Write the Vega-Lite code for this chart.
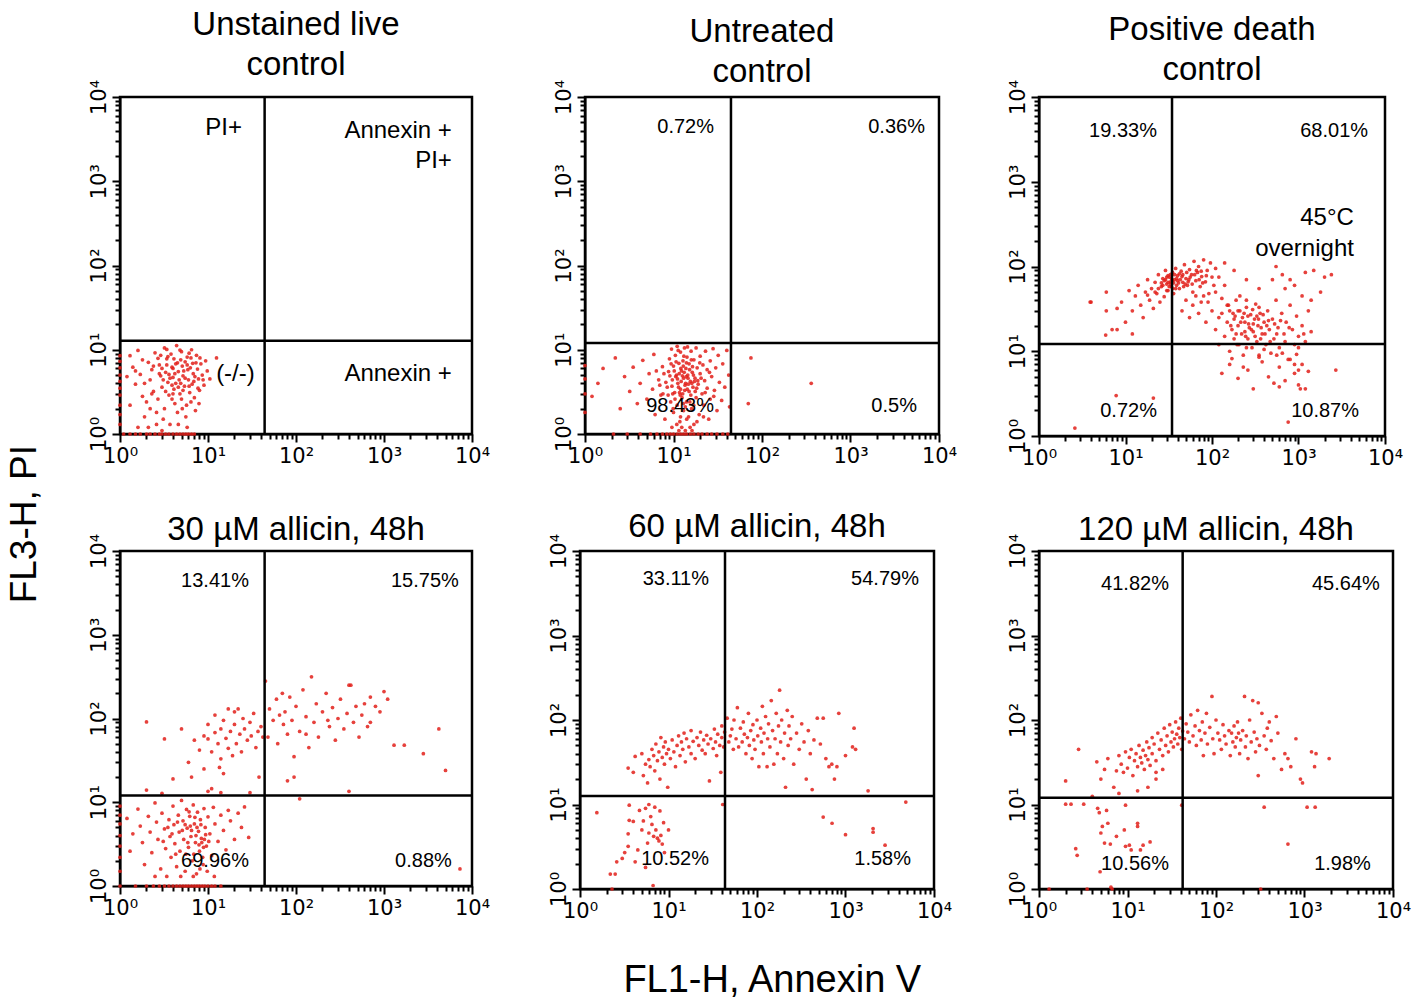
{
"$schema": "https://vega.github.io/schema/vega-lite/v6.json",
"padding": {"left": 5, "top": 8, "right": 5, "bottom": 0},
"title": {"text": "FL3-H, PI", "orient": "left", "fontSize": 37, "offset": 43, "anchor": "middle", "dx": -20},
"datasets": {
"p1": [
{"x":1.1,"y":1},{"x":1.3,"y":1},{"x":1.5,"y":1},{"x":1.7,"y":1},{"x":2.0,"y":1},{"x":2.2,"y":1},{"x":2.5,"y":1},{"x":2.8,"y":1},{"x":3.0,"y":1},{"x":3.3,"y":1},{"x":3.6,"y":1},{"x":4.0,"y":1},{"x":4.4,"y":1},{"x":4.8,"y":1},{"x":5.2,"y":1},{"x":5.6,"y":1},{"x":6.0,"y":1},{"x":6.5,"y":1},{"x":7.0,"y":1},
{"x":1,"y":1.3},{"x":1,"y":1.7},{"x":1,"y":2.2},{"x":1,"y":2.9},{"x":1,"y":3.5},{"x":1,"y":4.2},{"x":1,"y":5.0},{"x":1,"y":6.1},{"x":1,"y":7.3},{"x":1,"y":8.5},
{"x":1.3,"y":8.5},{"x":1.6,"y":9.8},{"x":1.4,"y":6.2},{"x":1.7,"y":5.1},{"x":1.5,"y":3.9},{"x":1.8,"y":2.8},{"x":1.3,"y":2.2},{"x":1.9,"y":1.6},{"x":2.1,"y":7.1},{"x":2.3,"y":5.8},{"x":2.2,"y":4.4},{"x":2.4,"y":3.2},{"x":2.0,"y":2.4},{"x":2.6,"y":1.8},{"x":2.5,"y":9.2},{"x":2.8,"y":6.6},{"x":2.9,"y":4.9},{"x":3.0,"y":3.6},{"x":2.7,"y":2.6},{"x":3.1,"y":1.5},{"x":3.2,"y":10.5},{"x":3.4,"y":7.8},{"x":3.3,"y":5.4},{"x":3.5,"y":4.1},{"x":3.6,"y":2.9},{"x":3.2,"y":2.0},{"x":3.8,"y":8.9},{"x":3.9,"y":6.2},{"x":4.0,"y":4.7},{"x":4.1,"y":3.4},{"x":4.2,"y":2.3},{"x":3.7,"y":1.3},{"x":4.4,"y":11.2},{"x":4.5,"y":7.0},{"x":4.6,"y":5.5},{"x":4.3,"y":4.0},{"x":4.8,"y":3.0},{"x":4.5,"y":1.8},{"x":5.0,"y":9.5},{"x":5.1,"y":6.4},{"x":5.2,"y":4.9},{"x":5.4,"y":3.7},{"x":5.0,"y":2.6},{"x":5.6,"y":1.6},{"x":5.8,"y":8.2},{"x":5.9,"y":5.8},{"x":6.0,"y":4.4},{"x":6.2,"y":3.1},{"x":5.7,"y":2.2},{"x":6.5,"y":10.0},{"x":6.7,"y":6.9},{"x":6.8,"y":5.2},{"x":6.6,"y":3.9},{"x":7.0,"y":2.7},{"x":7.2,"y":1.9},{"x":7.4,"y":8.6},{"x":7.6,"y":5.9},{"x":7.8,"y":4.5},{"x":8.0,"y":3.3},{"x":8.3,"y":6.8},{"x":8.6,"y":5.0},{"x":9.0,"y":3.8},{"x":9.4,"y":7.4},{"x":9.8,"y":5.6},{"x":12.5,"y":8.0},{"x":10.5,"y":4.5},{"x":2.7,"y":7.9},{"x":3.0,"y":6.0},{"x":3.6,"y":5.1},{"x":4.0,"y":6.0},{"x":4.2,"y":5.2},{"x":4.7,"y":4.4},{"x":5.3,"y":5.6},{"x":3.9,"y":3.8},{"x":4.9,"y":4.0},{"x":5.5,"y":7.2},{"x":3.3,"y":3.2},{"x":2.3,"y":3.0},{"x":6.3,"y":6.1},{"x":7.1,"y":4.8},{"x":4.1,"y":7.8},{"x":2.9,"y":8.6},{"x":1.9,"y":4.0},{"x":1.2,"y":4.8},{"x":2.1,"y":1.2},{"x":2.6,"y":1.3},{"x":4.6,"y":1.3},{"x":5.8,"y":1.2},{"x":6.4,"y":2.4},{"x":7.7,"y":3.5},{"x":8.8,"y":4.4},{"x":3.4,"y":10.1},{"x":4.8,"y":9.9},{"x":6.1,"y":9.1},{"x":1.6,"y":1.2},{"x":3.0,"y":1.1},
{"x":2.8,"y":5.2},{"x":3.1,"y":4.4},{"x":3.4,"y":6.6},{"x":3.7,"y":4.6},{"x":4.0,"y":3.0},{"x":4.3,"y":6.8},{"x":4.6,"y":3.6},{"x":4.9,"y":7.6},{"x":5.2,"y":3.3},{"x":5.5,"y":4.6},{"x":5.8,"y":6.6},{"x":6.1,"y":3.7},{"x":6.4,"y":8.0},{"x":6.9,"y":4.2},{"x":7.3,"y":7.0},{"x":3.5,"y":8.3},{"x":2.4,"y":6.4},{"x":2.2,"y":2.0},{"x":3.9,"y":2.6},{"x":5.1,"y":2.0},{"x":1.8,"y":7.6},{"x":1.5,"y":5.6},{"x":8.1,"y":8.0},{"x":7.9,"y":2.3}
],
"p2": [
{"x":2.1,"y":1},{"x":3.0,"y":1},{"x":4.2,"y":1},{"x":5.5,"y":1},{"x":6.5,"y":1},{"x":7.5,"y":1},{"x":8.4,"y":1},{"x":9.2,"y":1},{"x":10,"y":1},{"x":11,"y":1},{"x":12,"y":1},{"x":13,"y":1},{"x":14,"y":1},{"x":15.5,"y":1},{"x":17,"y":1},{"x":19,"y":1},{"x":21,"y":1},{"x":24,"y":1},{"x":27,"y":1},{"x":31,"y":1},{"x":36,"y":1},{"x":41,"y":1},
{"x":1,"y":1.8},{"x":1,"y":3.0},{"x":1,"y":4.5},{"x":1,"y":6.5},
{"x":1.2,"y":2.8},{"x":1.6,"y":6.0},{"x":2.2,"y":8.0},{"x":1.4,"y":4.0},{"x":2.5,"y":2.0},{"x":2.8,"y":4.8},{"x":3.2,"y":3.2},{"x":3.5,"y":6.2},{"x":3.9,"y":2.3},{"x":4.2,"y":4.0},{"x":4.5,"y":7.5},{"x":5.0,"y":2.6},{"x":5.3,"y":5.2},{"x":5.8,"y":3.4},{"x":6.2,"y":1.7},{"x":6.0,"y":8.8},{"x":6.8,"y":4.4},{"x":7.2,"y":2.9},{"x":7.5,"y":6.3},{"x":8.0,"y":1.5},
{"x":8.5,"y":3.6},{"x":8.8,"y":5.5},{"x":9.0,"y":7.8},{"x":9.3,"y":2.4},{"x":9.5,"y":10.2},{"x":9.7,"y":4.4},{"x":10,"y":1.8},{"x":10,"y":6.4},{"x":10.3,"y":3.1},{"x":10.5,"y":8.6},{"x":10.8,"y":5.0},{"x":11,"y":2.2},{"x":11,"y":11.0},{"x":11.2,"y":4.0},{"x":11.5,"y":6.9},{"x":11.8,"y":1.4},{"x":12,"y":3.4},{"x":12,"y":9.4},{"x":12.3,"y":5.6},{"x":12.5,"y":2.7},{"x":12.8,"y":7.4},{"x":13,"y":4.6},{"x":13,"y":1.9},{"x":13.3,"y":10.5},{"x":13.5,"y":3.8},{"x":13.8,"y":6.0},{"x":14,"y":2.4},{"x":14.2,"y":8.2},{"x":14.5,"y":5.0},{"x":14.8,"y":1.6},{"x":15,"y":3.2},{"x":15,"y":6.8},{"x":15.5,"y":4.2},{"x":15.8,"y":9.6},{"x":16,"y":2.0},{"x":16.3,"y":5.4},{"x":16.6,"y":3.6},{"x":17,"y":7.6},{"x":17,"y":1.3},{"x":17.5,"y":4.6},{"x":18,"y":2.7},{"x":18,"y":10.5},{"x":18.5,"y":6.1},{"x":19,"y":3.9},{"x":19.5,"y":1.7},{"x":20,"y":5.2},{"x":20,"y":8.4},{"x":21,"y":3.0},{"x":21.5,"y":6.6},{"x":22,"y":2.2},{"x":22.5,"y":4.3},{"x":23,"y":9.6},{"x":24,"y":3.5},{"x":24,"y":5.8},{"x":25,"y":1.5},{"x":26,"y":7.4},{"x":26,"y":2.6},{"x":27,"y":4.8},{"x":28,"y":10.3},{"x":29,"y":3.3},{"x":30,"y":6.1},{"x":31,"y":1.9},{"x":32,"y":8.6},{"x":33,"y":4.1},{"x":35,"y":2.5},{"x":36,"y":6.8},{"x":38,"y":3.6},{"x":40,"y":9.8},{"x":42,"y":5.0},{"x":43,"y":2.1},
{"x":9.8,"y":3.0},{"x":10.6,"y":4.8},{"x":11.4,"y":3.6},{"x":12.2,"y":4.2},{"x":12.7,"y":3.0},{"x":13.2,"y":5.4},{"x":13.7,"y":4.0},{"x":14.3,"y":3.4},{"x":14.6,"y":4.6},{"x":15.2,"y":5.8},{"x":15.7,"y":2.9},{"x":16.1,"y":4.0},{"x":11.6,"y":5.2},{"x":10.2,"y":5.6},{"x":12.9,"y":6.4},{"x":14.0,"y":7.0},{"x":16.8,"y":5.0},{"x":17.6,"y":3.2},{"x":9.1,"y":4.9},{"x":8.2,"y":4.1},{"x":11.9,"y":2.9},{"x":13.6,"y":2.1},{"x":12.4,"y":1.2},{"x":10.9,"y":1.3},{"x":15.4,"y":1.2},{"x":18.8,"y":4.3},{"x":19.8,"y":7.0},{"x":9.4,"y":6.8},{"x":7.8,"y":5.2},{"x":7.0,"y":3.8},
{"x":9.6,"y":3.7},{"x":10.4,"y":2.6},{"x":11.1,"y":4.5},{"x":11.7,"y":3.1},{"x":12.6,"y":4.9},{"x":13.4,"y":3.3},{"x":13.9,"y":4.8},{"x":14.7,"y":3.9},{"x":15.3,"y":2.4},{"x":16.4,"y":6.3},{"x":17.2,"y":4.2},{"x":18.3,"y":3.5},{"x":12.1,"y":6.0},{"x":10.7,"y":7.2},{"x":13.1,"y":8.4},{"x":15.9,"y":7.6},{"x":11.3,"y":9.8},{"x":14.4,"y":10.8},{"x":9.9,"y":2.0},{"x":12.9,"y":2.3},{"x":16.9,"y":2.2},{"x":20.5,"y":4.6},{"x":22.8,"y":3.1},{"x":25.5,"y":5.4},{"x":28.5,"y":2.8},{"x":8.7,"y":2.9},{"x":7.6,"y":3.0},{"x":6.4,"y":5.6},{"x":12.0,"y":1.6},{"x":14.1,"y":1.5},{"x":18.4,"y":1.4},{"x":21.8,"y":1.6},{"x":11.5,"y":1.1},{"x":13.6,"y":1.1},{"x":16.2,"y":1.1},{"x":9.6,"y":1.2},
{"x":75,"y":8.0},{"x":70,"y":2.3},{"x":360,"y":4.0}
],
"p3": [
{"x":9,"y":38},{"x":10,"y":22},{"x":11,"y":52},{"x":12,"y":30},{"x":13,"y":45},{"x":14,"y":60},{"x":15,"y":35},{"x":16,"y":25},{"x":17,"y":50},{"x":18,"y":70},{"x":19,"y":40},{"x":20,"y":55},{"x":21,"y":32},{"x":22,"y":65},{"x":23,"y":48},{"x":24,"y":80},{"x":25,"y":38},{"x":26,"y":58},{"x":27,"y":72},{"x":28,"y":44},{"x":29,"y":90},{"x":30,"y":62},{"x":31,"y":52},{"x":32,"y":75},{"x":33,"y":66},{"x":34,"y":58},{"x":35,"y":85},{"x":36,"y":48},{"x":37,"y":70},{"x":38,"y":95},{"x":39,"y":60},{"x":40,"y":78},{"x":42,"y":55},{"x":44,"y":88},{"x":46,"y":65},{"x":48,"y":105},{"x":50,"y":72},{"x":52,"y":60},{"x":55,"y":92},{"x":58,"y":80},{"x":60,"y":50},{"x":62,"y":115},{"x":65,"y":68},{"x":68,"y":85},{"x":70,"y":100},{"x":73,"y":58},{"x":76,"y":76},{"x":80,"y":120},{"x":84,"y":66},{"x":88,"y":90},{"x":92,"y":48},{"x":96,"y":110},{"x":100,"y":75},{"x":105,"y":60},{"x":110,"y":95},
{"x":28,"y":68},{"x":30,"y":75},{"x":32,"y":58},{"x":34,"y":72},{"x":36,"y":64},{"x":38,"y":55},{"x":40,"y":68},{"x":33,"y":80},{"x":31,"y":65},{"x":45,"y":76},{"x":42,"y":82},{"x":47,"y":58},{"x":54,"y":70},{"x":26,"y":64},{"x":24,"y":55},
{"x":27,"y":60},{"x":29,"y":70},{"x":31,"y":78},{"x":33,"y":62},{"x":35,"y":68},{"x":37,"y":80},{"x":39,"y":72},{"x":41,"y":64},{"x":43,"y":70},{"x":46,"y":80},{"x":49,"y":62},{"x":51,"y":85},{"x":53,"y":66},{"x":56,"y":75},{"x":59,"y":62},{"x":63,"y":80},{"x":66,"y":90},{"x":71,"y":70},{"x":75,"y":88},{"x":78,"y":64},{"x":86,"y":78},{"x":35,"y":55},{"x":30,"y":52},{"x":22,"y":50},{"x":18,"y":46},
{"x":12,"y":16},{"x":8,"y":32},{"x":7,"y":18},{"x":6,"y":30},{"x":4,"y":38},
{"x":45,"y":30},{"x":50,"y":40},{"x":60,"y":35},{"x":70,"y":28},{"x":80,"y":45},{"x":90,"y":38},{"x":100,"y":30},{"x":110,"y":50},{"x":120,"y":25},{"x":130,"y":42},{"x":140,"y":60},{"x":150,"y":35},{"x":55,"y":25},{"x":65,"y":45},{"x":85,"y":22},{"x":75,"y":38},
{"x":110,"y":18},{"x":120,"y":12},{"x":130,"y":28},{"x":140,"y":15},{"x":150,"y":22},{"x":155,"y":35},{"x":160,"y":10},{"x":170,"y":18},{"x":175,"y":28},{"x":180,"y":14},{"x":190,"y":40},{"x":200,"y":20},{"x":205,"y":12},{"x":210,"y":30},{"x":220,"y":16},{"x":225,"y":25},{"x":230,"y":9},{"x":240,"y":22},{"x":250,"y":33},{"x":260,"y":14},{"x":270,"y":19},{"x":280,"y":27},{"x":290,"y":11},{"x":300,"y":17},{"x":310,"y":24},{"x":320,"y":36},{"x":330,"y":13},{"x":340,"y":20},{"x":350,"y":8.5},{"x":360,"y":28},{"x":380,"y":16},{"x":400,"y":22},{"x":420,"y":12},{"x":440,"y":30},{"x":460,"y":18},{"x":480,"y":9.5},{"x":500,"y":24},{"x":520,"y":14},{"x":550,"y":40},{"x":580,"y":19},{"x":600,"y":11},{"x":640,"y":28},{"x":680,"y":16},{"x":720,"y":22},{"x":760,"y":8},{"x":800,"y":35},{"x":850,"y":18},{"x":900,"y":12},{"x":950,"y":26},{"x":1000,"y":15},{"x":1100,"y":20},{"x":1200,"y":13},{"x":1300,"y":30},{"x":1400,"y":17},
{"x":180,"y":24},{"x":200,"y":30},{"x":240,"y":17},{"x":260,"y":26},{"x":300,"y":21},{"x":330,"y":26},{"x":370,"y":19},{"x":410,"y":16},{"x":450,"y":23},{"x":250,"y":11},{"x":190,"y":16},{"x":160,"y":30},
{"x":165,"y":20},{"x":185,"y":26},{"x":195,"y":12},{"x":215,"y":22},{"x":235,"y":28},{"x":245,"y":15},{"x":265,"y":21},{"x":285,"y":18},{"x":295,"y":31},{"x":315,"y":15},{"x":345,"y":24},{"x":365,"y":14},{"x":390,"y":27},{"x":430,"y":20},{"x":470,"y":13},{"x":530,"y":21},{"x":560,"y":16},{"x":620,"y":23},{"x":700,"y":13},{"x":780,"y":19},{"x":1000,"y":11},{"x":1150,"y":16},{"x":250,"y":40},{"x":210,"y":45},{"x":350,"y":33},
{"x":400,"y":10.5},{"x":560,"y":9},{"x":1000,"y":6},{"x":1050,"y":3.6},{"x":900,"y":7},{"x":600,"y":3.8},{"x":230,"y":6.5},
{"x":130,"y":5.5},{"x":160,"y":7},{"x":200,"y":4.8},{"x":260,"y":6},{"x":300,"y":3.6},{"x":380,"y":7.5},{"x":450,"y":5},{"x":520,"y":4.2},{"x":600,"y":6.5},{"x":700,"y":4.5},{"x":800,"y":8},{"x":900,"y":5.5},{"x":1000,"y":4},{"x":1100,"y":7},{"x":1200,"y":3.6},{"x":1300,"y":5.8},{"x":170,"y":8.2},{"x":350,"y":9},{"x":650,"y":9.5},{"x":950,"y":9.2},
{"x":550,"y":100},{"x":650,"y":80},{"x":800,"y":70},{"x":900,"y":60},{"x":1200,"y":85},{"x":1500,"y":90},{"x":2000,"y":75},{"x":2400,"y":80},{"x":1800,"y":50},{"x":1100,"y":45},{"x":700,"y":55},{"x":1400,"y":40},{"x":500,"y":70},{"x":350,"y":55},{"x":250,"y":70},{"x":180,"y":90},{"x":140,"y":110},{"x":120,"y":75},
{"x":2700,"y":6},{"x":760,"y":1.46},{"x":2.6,"y":1.24},{"x":7.8,"y":3.0},{"x":21,"y":2.8},{"x":3.9,"y":38},{"x":5.9,"y":15.5},{"x":6,"y":50},{"x":8,"y":18}
],
"p4": [
{"x":1.0,"y":1},{"x":1.5,"y":1},{"x":2.0,"y":1},{"x":2.4,"y":1},{"x":2.8,"y":1},{"x":3.2,"y":1},{"x":3.6,"y":1},{"x":4.0,"y":1},{"x":4.4,"y":1},{"x":4.8,"y":1},{"x":5.2,"y":1},{"x":5.6,"y":1},{"x":6.0,"y":1},{"x":6.5,"y":1},{"x":7.0,"y":1},{"x":7.5,"y":1},{"x":8.0,"y":1},{"x":8.6,"y":1},{"x":9.2,"y":1},{"x":10,"y":1},{"x":11,"y":1},{"x":12,"y":1},{"x":14,"y":1},
{"x":1,"y":1.5},{"x":1,"y":2.2},{"x":1,"y":3.0},{"x":1,"y":4.0},{"x":1,"y":5.5},{"x":1,"y":7.0},{"x":1,"y":9.0},
{"x":1.2,"y":6.4},{"x":1.4,"y":4.2},{"x":1.3,"y":2.6},{"x":1.6,"y":8.3},{"x":1.7,"y":5.2},{"x":1.8,"y":3.3},{"x":1.9,"y":1.8},{"x":2.1,"y":6.8},{"x":2.2,"y":4.4},{"x":2.3,"y":2.5},{"x":2.5,"y":9.8},{"x":2.6,"y":5.8},{"x":2.7,"y":3.6},{"x":2.9,"y":1.6},{"x":3.0,"y":7.4},{"x":3.2,"y":4.8},{"x":3.3,"y":2.8},{"x":3.4,"y":1.3},{"x":3.6,"y":6.2},{"x":3.7,"y":3.9},{"x":3.8,"y":2.2},{"x":4.0,"y":9.0},{"x":4.1,"y":5.4},{"x":4.2,"y":3.2},{"x":4.4,"y":1.7},{"x":4.6,"y":7.0},{"x":4.7,"y":4.4},{"x":4.8,"y":2.6},{"x":5.0,"y":10.5},{"x":5.2,"y":6.0},{"x":5.3,"y":3.6},{"x":5.5,"y":1.5},{"x":5.7,"y":8.2},{"x":5.8,"y":4.9},{"x":6.0,"y":2.9},{"x":6.2,"y":6.8},{"x":6.4,"y":3.9},{"x":6.6,"y":2.0},{"x":6.8,"y":9.3},{"x":7.0,"y":5.5},{"x":7.2,"y":3.3},{"x":7.4,"y":1.4},{"x":7.6,"y":7.6},{"x":7.8,"y":4.5},{"x":8.0,"y":2.6},{"x":8.2,"y":6.2},{"x":8.4,"y":3.7},{"x":8.8,"y":1.8},{"x":9.0,"y":8.4},{"x":9.3,"y":5.0},{"x":9.6,"y":3.0},{"x":10,"y":6.7},{"x":10.5,"y":4.2},{"x":11,"y":2.3},{"x":11.5,"y":8.7},{"x":12,"y":5.5},{"x":13,"y":3.4},{"x":14,"y":7.0},{"x":15,"y":4.6},{"x":16,"y":2.7},{"x":17,"y":8.0},{"x":18,"y":6.0},{"x":20,"y":3.6},{"x":22,"y":7.4},{"x":24,"y":5.0},{"x":26,"y":8.8},{"x":29,"y":3.8},{"x":8.5,"y":3.3},{"x":8.9,"y":2.9},{"x":9.1,"y":3.6},{"x":7.5,"y":5.0},{"x":6.5,"y":4.6},{"x":5.5,"y":5.4},{"x":4.5,"y":5.8},{"x":3.5,"y":5.0},{"x":6.1,"y":7.7},{"x":7.1,"y":6.6},
{"x":3.9,"y":4.2},{"x":4.3,"y":2.4},{"x":5.1,"y":4.6},{"x":5.9,"y":3.3},{"x":6.3,"y":5.2},{"x":6.9,"y":2.4},{"x":7.3,"y":4.0},{"x":7.9,"y":3.1},{"x":8.3,"y":5.4},{"x":8.7,"y":2.2},{"x":9.4,"y":4.1},{"x":10.2,"y":3.4},{"x":8.1,"y":1.6},{"x":6.8,"y":1.3},{"x":5.6,"y":2.4},{"x":4.9,"y":1.3},{"x":3.1,"y":3.4},{"x":2.5,"y":1.3},{"x":9.8,"y":1.5},{"x":11.8,"y":1.3},
{"x":2,"y":14},{"x":3,"y":12.8},{"x":14,"y":13},{"x":30,"y":13},{"x":10,"y":13.5},
{"x":2.0,"y":91},{"x":3.2,"y":57},{"x":5,"y":75},{"x":6,"y":30},{"x":7,"y":55},{"x":8,"y":42},{"x":9,"y":62},{"x":10,"y":57},{"x":10,"y":85},{"x":11,"y":40},{"x":12,"y":68},{"x":12,"y":110},{"x":13,"y":50},{"x":14,"y":75},{"x":14,"y":33},{"x":15,"y":95},{"x":16,"y":58},{"x":17,"y":130},{"x":17,"y":44},{"x":18,"y":70},{"x":19,"y":36},{"x":20,"y":85},{"x":20,"y":120},{"x":21,"y":50},{"x":22,"y":130},{"x":23,"y":65},{"x":24,"y":40},{"x":25,"y":100},{"x":26,"y":75},{"x":28,"y":55},{"x":30,"y":90},{"x":31,"y":62},{"x":33,"y":115},{"x":35,"y":45},{"x":37,"y":70},{"x":38,"y":20},{"x":40,"y":80},{"x":42,"y":60},{"x":6.5,"y":20},{"x":9,"y":25},{"x":11,"y":14.5},{"x":13.5,"y":26},{"x":4,"y":19},{"x":15,"y":22},
{"x":45,"y":280},{"x":48,"y":60},{"x":50,"y":130},{"x":55,"y":95},{"x":60,"y":170},{"x":62,"y":50},{"x":65,"y":110},{"x":70,"y":200},{"x":72,"y":85},{"x":75,"y":120},{"x":80,"y":65},{"x":85,"y":180},{"x":90,"y":95},{"x":95,"y":35},{"x":100,"y":140},{"x":110,"y":70},{"x":120,"y":220},{"x":130,"y":105},{"x":140,"y":45},{"x":150,"y":315},{"x":160,"y":90},{"x":170,"y":150},{"x":180,"y":60},{"x":200,"y":120},{"x":220,"y":200},{"x":240,"y":80},{"x":260,"y":135},{"x":280,"y":55},{"x":300,"y":100},{"x":320,"y":170},{"x":350,"y":75},{"x":380,"y":115},{"x":400,"y":250},{"x":420,"y":250},{"x":450,"y":90},{"x":480,"y":140},{"x":520,"y":60},{"x":560,"y":110},{"x":600,"y":150},{"x":650,"y":80},{"x":700,"y":180},{"x":800,"y":140},{"x":900,"y":120},{"x":1000,"y":210},{"x":1100,"y":170},{"x":1300,"y":48},{"x":1700,"y":48},{"x":2800,"y":38},{"x":4200,"y":75},{"x":5000,"y":24},{"x":80,"y":18},{"x":95,"y":20},{"x":400,"y":13.5},{"x":700,"y":90},{"x":130,"y":65},{"x":230,"y":95},
{"x":7300,"y":1.6},{"x":110,"y":11}
],
"p5": [
{"x":1.55,"y":8},{"x":2.3,"y":1},{"x":2.2,"y":1.5},{"x":2.5,"y":1.5},{"x":2.6,"y":2.1},{"x":3.0,"y":2.3},{"x":3.2,"y":2.7},{"x":3.5,"y":3.2},{"x":3.5,"y":4.5},{"x":3.6,"y":6.5},{"x":3.6,"y":9.8},{"x":4.2,"y":2.1},{"x":4.5,"y":2.9},{"x":4.7,"y":8.5},{"x":5.0,"y":5.0},{"x":5.2,"y":6.4},{"x":5.5,"y":9.0},{"x":5.8,"y":3.5},{"x":6.0,"y":4.6},{"x":6.3,"y":7.2},{"x":6.5,"y":5.8},{"x":6.8,"y":4.2},{"x":7.0,"y":9.3},{"x":7.2,"y":5.0},{"x":7.5,"y":4.0},{"x":7.8,"y":3.7},{"x":8.0,"y":8.4},{"x":8.2,"y":4.3},{"x":8.5,"y":3.4},{"x":9.0,"y":2.7},{"x":10,"y":5.0},{"x":6.7,"y":1.1},{"x":5.5,"y":1.8},{"x":4.0,"y":6.3},{"x":6.0,"y":10.0},{"x":8.8,"y":6.1},
{"x":3.5,"y":27},{"x":4,"y":24},{"x":4.2,"y":37},{"x":5,"y":40},{"x":5.2,"y":22},{"x":5.5,"y":30},{"x":5.8,"y":18},{"x":6,"y":34},{"x":6.2,"y":28},{"x":6.5,"y":45},{"x":6.8,"y":38},{"x":7,"y":25},{"x":7.2,"y":52},{"x":7.5,"y":33},{"x":7.8,"y":42},{"x":8,"y":20},{"x":8.2,"y":62},{"x":8.5,"y":36},{"x":8.8,"y":48},{"x":9,"y":30},{"x":9.2,"y":55},{"x":9.5,"y":40},{"x":9.8,"y":16},{"x":10,"y":45},{"x":10.5,"y":35},{"x":11,"y":58},{"x":11.5,"y":42},{"x":12,"y":28},{"x":12.5,"y":50},{"x":13,"y":65},{"x":13.5,"y":38},{"x":14,"y":55},{"x":14.5,"y":45},{"x":15,"y":70},{"x":15.5,"y":32},{"x":16,"y":60},{"x":17,"y":48},{"x":18,"y":75},{"x":18,"y":40},{"x":19,"y":56},{"x":20,"y":35},{"x":21,"y":62},{"x":22,"y":50},{"x":23,"y":72},{"x":24,"y":44},{"x":25,"y":58},{"x":26,"y":40},{"x":27,"y":66},{"x":28,"y":52},{"x":29,"y":19},{"x":30,"y":60},{"x":32,"y":46},{"x":33,"y":78},{"x":34,"y":55},{"x":35,"y":38},{"x":36,"y":68},{"x":38,"y":50},{"x":39,"y":24},{"x":40,"y":62},{"x":40,"y":85},{"x":42,"y":48},{"x":43,"y":72},{"x":41,"y":10},
{"x":46,"y":105},{"x":48,"y":55},{"x":50,"y":65},{"x":52,"y":78},{"x":54,"y":45},{"x":55,"y":100},{"x":58,"y":60},{"x":60,"y":140},{"x":62,"y":48},{"x":65,"y":80},{"x":68,"y":55},{"x":70,"y":95},{"x":72,"y":68},{"x":75,"y":40},{"x":78,"y":62},{"x":80,"y":120},{"x":82,"y":50},{"x":85,"y":75},{"x":88,"y":35},{"x":90,"y":88},{"x":92,"y":58},{"x":95,"y":45},{"x":100,"y":100},{"x":102,"y":65},{"x":105,"y":28},{"x":110,"y":80},{"x":112,"y":55},{"x":115,"y":145},{"x":118,"y":40},{"x":120,"y":70},{"x":125,"y":110},{"x":130,"y":28},{"x":132,"y":60},{"x":135,"y":90},{"x":140,"y":48},{"x":145,"y":170},{"x":150,"y":75},{"x":155,"y":30},{"x":160,"y":60},{"x":165,"y":120},{"x":170,"y":40},{"x":175,"y":85},{"x":180,"y":225},{"x":185,"y":55},{"x":190,"y":100},{"x":200,"y":35},{"x":205,"y":70},{"x":210,"y":16},{"x":220,"y":130},{"x":225,"y":50},{"x":230,"y":85},{"x":240,"y":60},{"x":250,"y":110},{"x":260,"y":30},{"x":280,"y":70},{"x":300,"y":45},{"x":320,"y":90},{"x":340,"y":55},{"x":360,"y":20},{"x":380,"y":75},{"x":400,"y":40},{"x":420,"y":15},{"x":440,"y":58},{"x":480,"y":105},{"x":520,"y":52},{"x":560,"y":105},{"x":600,"y":35},{"x":650,"y":28},{"x":700,"y":30},{"x":750,"y":20},{"x":800,"y":28},{"x":840,"y":120},{"x":1000,"y":38},{"x":1200,"y":48},{"x":1250,"y":80},{"x":1300,"y":45},
{"x":560,"y":7.1},{"x":705,"y":6},{"x":1000,"y":4.4},{"x":2050,"y":5.2},{"x":2050,"y":4.7},{"x":2800,"y":3.3},{"x":4800,"y":10.7},{"x":1800,"y":14.5}
],
"p6": [
{"x":1.3,"y":1},{"x":3.5,"y":1},{"x":6.7,"y":1},{"x":6.5,"y":1.05},{"x":2.0,"y":10.1},{"x":2.3,"y":10.1},{"x":3.2,"y":10.1},{"x":2.6,"y":3.0},{"x":2.7,"y":2.5},{"x":4.6,"y":9.0},{"x":4.8,"y":8.0},{"x":5.0,"y":4.6},{"x":5.2,"y":5.5},{"x":5.5,"y":3.5},{"x":5.8,"y":8.5},{"x":4.9,"y":1.6},{"x":6.4,"y":3.4},{"x":9.5,"y":9.8},{"x":9.2,"y":5.0},{"x":9.5,"y":3.2},{"x":10.5,"y":3.3},{"x":13,"y":5.5},{"x":13,"y":6.0},{"x":14,"y":2.9},{"x":15,"y":3.3},{"x":18,"y":3.6},{"x":11,"y":2.9},{"x":6,"y":6},{"x":7.5,"y":4.2},{"x":4,"y":12.5},
{"x":320,"y":1},{"x":650,"y":3.4},{"x":1070,"y":9.3},{"x":1320,"y":9.3},{"x":350,"y":9.3},{"x":41,"y":9.8},
{"x":2.0,"y":19},{"x":2.8,"y":45},{"x":4.5,"y":32},{"x":5.0,"y":20},{"x":5.5,"y":26},{"x":6,"y":35},{"x":7,"y":16},{"x":7.5,"y":25},{"x":8,"y":38},{"x":8.5,"y":30},{"x":9,"y":24},{"x":9.5,"y":42},{"x":10,"y":27},{"x":10.5,"y":36},{"x":11,"y":45},{"x":11.5,"y":22},{"x":12,"y":33},{"x":12.5,"y":40},{"x":13,"y":28},{"x":13.5,"y":50},{"x":14,"y":36},{"x":14.5,"y":31},{"x":15,"y":44},{"x":15.5,"y":26},{"x":16,"y":38},{"x":16.5,"y":55},{"x":17,"y":34},{"x":17.5,"y":47},{"x":18,"y":29},{"x":19,"y":62},{"x":19,"y":40},{"x":20,"y":52},{"x":21,"y":33},{"x":21,"y":20},{"x":22,"y":70},{"x":23,"y":45},{"x":24,"y":58},{"x":25,"y":38},{"x":26,"y":80},{"x":27,"y":50},{"x":28,"y":65},{"x":29,"y":42},{"x":30,"y":88},{"x":31,"y":55},{"x":32,"y":72},{"x":33,"y":48},{"x":34,"y":60},{"x":35,"y":95},{"x":36,"y":68},{"x":37,"y":52},{"x":38,"y":80},{"x":39,"y":62},{"x":40,"y":105},{"x":41,"y":45},{"x":42,"y":74},{"x":17,"y":16},{"x":21,"y":24},{"x":25,"y":26},{"x":13,"y":14.5},{"x":8,"y":13.5},
{"x":44,"y":60},{"x":46,"y":90},{"x":48,"y":72},{"x":50,"y":55},{"x":52,"y":115},{"x":55,"y":65},{"x":58,"y":85},{"x":60,"y":50},{"x":62,"y":130},{"x":65,"y":75},{"x":68,"y":58},{"x":70,"y":95},{"x":72,"y":38},{"x":75,"y":70},{"x":78,"y":120},{"x":80,"y":52},{"x":85,"y":82},{"x":90,"y":190},{"x":92,"y":60},{"x":95,"y":40},{"x":100,"y":100},{"x":105,"y":70},{"x":110,"y":58},{"x":115,"y":45},{"x":120,"y":88},{"x":125,"y":65},{"x":130,"y":52},{"x":140,"y":75},{"x":145,"y":38},{"x":150,"y":70},{"x":155,"y":55},{"x":160,"y":85},{"x":165,"y":48},{"x":170,"y":62},{"x":175,"y":95},{"x":180,"y":70},{"x":185,"y":40},{"x":190,"y":58},{"x":200,"y":75},{"x":210,"y":190},{"x":215,"y":48},{"x":220,"y":65},{"x":230,"y":35},{"x":240,"y":100},{"x":250,"y":55},{"x":260,"y":170},{"x":270,"y":72},{"x":280,"y":42},{"x":290,"y":60},{"x":300,"y":160},{"x":300,"y":22},{"x":310,"y":50},{"x":330,"y":120},{"x":350,"y":65},{"x":370,"y":45},{"x":400,"y":95},{"x":420,"y":57},{"x":450,"y":35},{"x":500,"y":70},{"x":550,"y":26},{"x":600,"y":40},{"x":650,"y":35},{"x":700,"y":28},{"x":900,"y":20},{"x":950,"y":18},{"x":1300,"y":28},{"x":1350,"y":40},{"x":1900,"y":35},{"x":1200,"y":42},{"x":800,"y":60},{"x":480,"y":110},{"x":380,"y":80}
]
},
"vconcat": [
{
"spacing": 60,
"hconcat": [
{
"width": 352, "height": 337,
"title": {"text": ["Unstained live", "control"], "offset": -3},
"layer": [
{"data": {"name": "p1"}, "mark": {"type": "circle", "size": 14, "color": "#e2201a", "opacity": 0.85},
 "encoding": {
  "x": {"field": "x", "type": "quantitative", "title": null, "scale": {"type": "log", "domain": [1, 10000], "nice": false},
   "axis": {"values": [1,2,3,4,5,6,7,8,9,10,20,30,40,50,60,70,80,90,100,200,300,400,500,600,700,800,900,1000,2000,3000,4000,5000,6000,7000,8000,9000,10000], "labelExpr": "datum.value==1?'10⁰':datum.value==10?'10¹':datum.value==100?'10²':datum.value==1000?'10³':datum.value==10000?'10⁴':''", "tickSize": {"condition": {"test": "datum.value==1||datum.value==10||datum.value==100||datum.value==1000||datum.value==10000", "value": 8}, "value": 5}, "labelOverlap": false, "labelFlush": false, "labelPadding": 3}},
  "y": {"field": "y", "type": "quantitative", "title": null, "scale": {"type": "log", "domain": [1, 10000], "nice": false},
   "axis": {"values": [1,2,3,4,5,6,7,8,9,10,20,30,40,50,60,70,80,90,100,200,300,400,500,600,700,800,900,1000,2000,3000,4000,5000,6000,7000,8000,9000,10000], "labelExpr": "datum.value==1?'10⁰':datum.value==10?'10¹':datum.value==100?'10²':datum.value==1000?'10³':datum.value==10000?'10⁴':''", "tickSize": {"condition": {"test": "datum.value==1||datum.value==10||datum.value==100||datum.value==1000||datum.value==10000", "value": 8}, "value": 5}, "labelOverlap": false, "labelFlush": false, "labelPadding": 3, "labelAngle": -90}}
 }},
{"data": {"values": [{}]}, "mark": {"type": "rule", "color": "black", "strokeWidth": 2.5}, "encoding": {"x": {"datum": 44}}},
{"data": {"values": [{}]}, "mark": {"type": "rule", "color": "black", "strokeWidth": 2.5}, "encoding": {"y": {"datum": 12.8}}},
{"data": {"values": [{"t": "PI+", "x": 24.3, "y": 4270}, {"t": "Annexin +", "x": 5900, "y": 4000}, {"t": "PI+", "x": 5900, "y": 1750}, {"t": "Annexin +", "x": 5900, "y": 5.2}, {"t": "(-/-)", "x": 34, "y": 5.2}]},
 "mark": {"type": "text", "align": "right", "baseline": "middle", "fontSize": 24},
 "encoding": {"x": {"field": "x", "type": "quantitative", "title": null}, "y": {"field": "y", "type": "quantitative", "title": null}, "text": {"field": "t"}}}
]
},
{
"spacing": 47,
"hconcat": [
{
"width": 354, "height": 337,
"title": {"text": ["Untreated", "control"], "offset": -10},
"layer": [
{"data": {"name": "p2"}, "mark": {"type": "circle", "size": 14, "color": "#e2201a", "opacity": 0.85},
 "encoding": {
  "x": {"field": "x", "type": "quantitative", "title": null, "scale": {"type": "log", "domain": [1, 10000], "nice": false},
   "axis": {"values": [1,2,3,4,5,6,7,8,9,10,20,30,40,50,60,70,80,90,100,200,300,400,500,600,700,800,900,1000,2000,3000,4000,5000,6000,7000,8000,9000,10000], "labelExpr": "datum.value==1?'10⁰':datum.value==10?'10¹':datum.value==100?'10²':datum.value==1000?'10³':datum.value==10000?'10⁴':''", "tickSize": {"condition": {"test": "datum.value==1||datum.value==10||datum.value==100||datum.value==1000||datum.value==10000", "value": 8}, "value": 5}, "labelOverlap": false, "labelFlush": false, "labelPadding": 3}},
  "y": {"field": "y", "type": "quantitative", "title": null, "scale": {"type": "log", "domain": [1, 10000], "nice": false},
   "axis": {"values": [1,2,3,4,5,6,7,8,9,10,20,30,40,50,60,70,80,90,100,200,300,400,500,600,700,800,900,1000,2000,3000,4000,5000,6000,7000,8000,9000,10000], "labelExpr": "datum.value==1?'10⁰':datum.value==10?'10¹':datum.value==100?'10²':datum.value==1000?'10³':datum.value==10000?'10⁴':''", "tickSize": {"condition": {"test": "datum.value==1||datum.value==10||datum.value==100||datum.value==1000||datum.value==10000", "value": 8}, "value": 5}, "labelOverlap": false, "labelFlush": false, "labelPadding": 3, "labelAngle": -90}}
 }},
{"data": {"values": [{}]}, "mark": {"type": "rule", "color": "black", "strokeWidth": 2.5}, "encoding": {"x": {"datum": 44.6}}},
{"data": {"values": [{}]}, "mark": {"type": "rule", "color": "black", "strokeWidth": 2.5}, "encoding": {"y": {"datum": 12}}},
{"data": {"values": [{"t": "0.72%", "x": 28.7, "y": 4400}, {"t": "0.36%", "x": 6940, "y": 4400}, {"t": "98.43%", "x": 28.7, "y": 2.15}, {"t": "0.5%", "x": 5630, "y": 2.15}]},
 "mark": {"type": "text", "align": "right", "baseline": "middle", "fontSize": 20},
 "encoding": {"x": {"field": "x", "type": "quantitative", "title": null}, "y": {"field": "y", "type": "quantitative", "title": null}, "text": {"field": "t"}}}
]
},
{
"width": 346, "height": 339,
"title": {"text": ["Positive death", "control"], "offset": -8},
"layer": [
{"data": {"name": "p3"}, "mark": {"type": "circle", "size": 14, "color": "#e2201a", "opacity": 0.85},
 "encoding": {
  "x": {"field": "x", "type": "quantitative", "title": null, "scale": {"type": "log", "domain": [1, 10000], "nice": false},
   "axis": {"values": [1,2,3,4,5,6,7,8,9,10,20,30,40,50,60,70,80,90,100,200,300,400,500,600,700,800,900,1000,2000,3000,4000,5000,6000,7000,8000,9000,10000], "labelExpr": "datum.value==1?'10⁰':datum.value==10?'10¹':datum.value==100?'10²':datum.value==1000?'10³':datum.value==10000?'10⁴':''", "tickSize": {"condition": {"test": "datum.value==1||datum.value==10||datum.value==100||datum.value==1000||datum.value==10000", "value": 8}, "value": 5}, "labelOverlap": false, "labelFlush": false, "labelPadding": 3}},
  "y": {"field": "y", "type": "quantitative", "title": null, "scale": {"type": "log", "domain": [1, 10000], "nice": false},
   "axis": {"values": [1,2,3,4,5,6,7,8,9,10,20,30,40,50,60,70,80,90,100,200,300,400,500,600,700,800,900,1000,2000,3000,4000,5000,6000,7000,8000,9000,10000], "labelExpr": "datum.value==1?'10⁰':datum.value==10?'10¹':datum.value==100?'10²':datum.value==1000?'10³':datum.value==10000?'10⁴':''", "tickSize": {"condition": {"test": "datum.value==1||datum.value==10||datum.value==100||datum.value==1000||datum.value==10000", "value": 8}, "value": 5}, "labelOverlap": false, "labelFlush": false, "labelPadding": 3, "labelAngle": -90}}
 }},
{"data": {"values": [{}]}, "mark": {"type": "rule", "color": "black", "strokeWidth": 2.5}, "encoding": {"x": {"datum": 34.5}}},
{"data": {"values": [{}]}, "mark": {"type": "rule", "color": "black", "strokeWidth": 2.5}, "encoding": {"y": {"datum": 12.2}}},
{"data": {"values": [{"t": "19.33%", "x": 23.1, "y": 3980}, {"t": "68.01%", "x": 6370, "y": 3980}, {"t": "0.72%", "x": 23.1, "y": 1.97}, {"t": "10.87%", "x": 5010, "y": 1.97}]},
 "mark": {"type": "text", "align": "right", "baseline": "middle", "fontSize": 20},
 "encoding": {"x": {"field": "x", "type": "quantitative", "title": null}, "y": {"field": "y", "type": "quantitative", "title": null}, "text": {"field": "t"}}},
{"data": {"values": [{"t": "45°C", "x": 4370, "y": 373}, {"t": "overnight", "x": 4370, "y": 161}]},
 "mark": {"type": "text", "align": "right", "baseline": "middle", "fontSize": 24},
 "encoding": {"x": {"field": "x", "type": "quantitative", "title": null}, "y": {"field": "y", "type": "quantitative", "title": null}, "text": {"field": "t"}}}
]
}
]
}
]
},
{
"spacing": 55,
"title": {"text": "FL1-H, Annexin V", "orient": "bottom", "anchor": "middle", "fontSize": 38, "offset": 40, "dx": 23},
"hconcat": [
{
"width": 352, "height": 335,
"title": {"text": "30 µM allicin, 48h", "offset": -14},
"layer": [
{"data": {"name": "p4"}, "mark": {"type": "circle", "size": 14, "color": "#e2201a", "opacity": 0.85},
 "encoding": {
  "x": {"field": "x", "type": "quantitative", "title": null, "scale": {"type": "log", "domain": [1, 10000], "nice": false},
   "axis": {"values": [1,2,3,4,5,6,7,8,9,10,20,30,40,50,60,70,80,90,100,200,300,400,500,600,700,800,900,1000,2000,3000,4000,5000,6000,7000,8000,9000,10000], "labelExpr": "datum.value==1?'10⁰':datum.value==10?'10¹':datum.value==100?'10²':datum.value==1000?'10³':datum.value==10000?'10⁴':''", "tickSize": {"condition": {"test": "datum.value==1||datum.value==10||datum.value==100||datum.value==1000||datum.value==10000", "value": 8}, "value": 5}, "labelOverlap": false, "labelFlush": false, "labelPadding": 3}},
  "y": {"field": "y", "type": "quantitative", "title": null, "scale": {"type": "log", "domain": [1, 10000], "nice": false},
   "axis": {"values": [1,2,3,4,5,6,7,8,9,10,20,30,40,50,60,70,80,90,100,200,300,400,500,600,700,800,900,1000,2000,3000,4000,5000,6000,7000,8000,9000,10000], "labelExpr": "datum.value==1?'10⁰':datum.value==10?'10¹':datum.value==100?'10²':datum.value==1000?'10³':datum.value==10000?'10⁴':''", "tickSize": {"condition": {"test": "datum.value==1||datum.value==10||datum.value==100||datum.value==1000||datum.value==10000", "value": 8}, "value": 5}, "labelOverlap": false, "labelFlush": false, "labelPadding": 3, "labelAngle": -90}}
 }},
{"data": {"values": [{}]}, "mark": {"type": "rule", "color": "black", "strokeWidth": 2.5}, "encoding": {"x": {"datum": 44}}},
{"data": {"values": [{}]}, "mark": {"type": "rule", "color": "black", "strokeWidth": 2.5}, "encoding": {"y": {"datum": 12}}},
{"data": {"values": [{"t": "13.41%", "x": 29.2, "y": 4370}, {"t": "15.75%", "x": 7080, "y": 4370}, {"t": "69.96%", "x": 29.2, "y": 1.99}, {"t": "0.88%", "x": 5900, "y": 1.99}]},
 "mark": {"type": "text", "align": "right", "baseline": "middle", "fontSize": 20},
 "encoding": {"x": {"field": "x", "type": "quantitative", "title": null}, "y": {"field": "y", "type": "quantitative", "title": null}, "text": {"field": "t"}}}
]
},
{
"spacing": 52,
"hconcat": [
{
"width": 354, "height": 338,
"title": {"text": "60 µM allicin, 48h", "offset": -11},
"layer": [
{"data": {"name": "p5"}, "mark": {"type": "circle", "size": 14, "color": "#e2201a", "opacity": 0.85},
 "encoding": {
  "x": {"field": "x", "type": "quantitative", "title": null, "scale": {"type": "log", "domain": [1, 10000], "nice": false},
   "axis": {"values": [1,2,3,4,5,6,7,8,9,10,20,30,40,50,60,70,80,90,100,200,300,400,500,600,700,800,900,1000,2000,3000,4000,5000,6000,7000,8000,9000,10000], "labelExpr": "datum.value==1?'10⁰':datum.value==10?'10¹':datum.value==100?'10²':datum.value==1000?'10³':datum.value==10000?'10⁴':''", "tickSize": {"condition": {"test": "datum.value==1||datum.value==10||datum.value==100||datum.value==1000||datum.value==10000", "value": 8}, "value": 5}, "labelOverlap": false, "labelFlush": false, "labelPadding": 3}},
  "y": {"field": "y", "type": "quantitative", "title": null, "scale": {"type": "log", "domain": [1, 10000], "nice": false},
   "axis": {"values": [1,2,3,4,5,6,7,8,9,10,20,30,40,50,60,70,80,90,100,200,300,400,500,600,700,800,900,1000,2000,3000,4000,5000,6000,7000,8000,9000,10000], "labelExpr": "datum.value==1?'10⁰':datum.value==10?'10¹':datum.value==100?'10²':datum.value==1000?'10³':datum.value==10000?'10⁴':''", "tickSize": {"condition": {"test": "datum.value==1||datum.value==10||datum.value==100||datum.value==1000||datum.value==10000", "value": 8}, "value": 5}, "labelOverlap": false, "labelFlush": false, "labelPadding": 3, "labelAngle": -90}}
 }},
{"data": {"values": [{}]}, "mark": {"type": "rule", "color": "black", "strokeWidth": 2.5}, "encoding": {"x": {"datum": 43.5}}},
{"data": {"values": [{}]}, "mark": {"type": "rule", "color": "black", "strokeWidth": 2.5}, "encoding": {"y": {"datum": 12.6}}},
{"data": {"values": [{"t": "33.11%", "x": 28.7, "y": 4660}, {"t": "54.79%", "x": 6760, "y": 4660}, {"t": "10.52%", "x": 28.7, "y": 2.26}, {"t": "1.58%", "x": 5500, "y": 2.26}]},
 "mark": {"type": "text", "align": "right", "baseline": "middle", "fontSize": 20},
 "encoding": {"x": {"field": "x", "type": "quantitative", "title": null}, "y": {"field": "y", "type": "quantitative", "title": null}, "text": {"field": "t"}}}
]
},
{
"width": 354, "height": 338,
"title": {"text": "120 µM allicin, 48h", "offset": -14},
"layer": [
{"data": {"name": "p6"}, "mark": {"type": "circle", "size": 14, "color": "#e2201a", "opacity": 0.85},
 "encoding": {
  "x": {"field": "x", "type": "quantitative", "title": null, "scale": {"type": "log", "domain": [1, 10000], "nice": false},
   "axis": {"values": [1,2,3,4,5,6,7,8,9,10,20,30,40,50,60,70,80,90,100,200,300,400,500,600,700,800,900,1000,2000,3000,4000,5000,6000,7000,8000,9000,10000], "labelExpr": "datum.value==1?'10⁰':datum.value==10?'10¹':datum.value==100?'10²':datum.value==1000?'10³':datum.value==10000?'10⁴':''", "tickSize": {"condition": {"test": "datum.value==1||datum.value==10||datum.value==100||datum.value==1000||datum.value==10000", "value": 8}, "value": 5}, "labelOverlap": false, "labelFlush": false, "labelPadding": 3}},
  "y": {"field": "y", "type": "quantitative", "title": null, "scale": {"type": "log", "domain": [1, 10000], "nice": false},
   "axis": {"values": [1,2,3,4,5,6,7,8,9,10,20,30,40,50,60,70,80,90,100,200,300,400,500,600,700,800,900,1000,2000,3000,4000,5000,6000,7000,8000,9000,10000], "labelExpr": "datum.value==1?'10⁰':datum.value==10?'10¹':datum.value==100?'10²':datum.value==1000?'10³':datum.value==10000?'10⁴':''", "tickSize": {"condition": {"test": "datum.value==1||datum.value==10||datum.value==100||datum.value==1000||datum.value==10000", "value": 8}, "value": 5}, "labelOverlap": false, "labelFlush": false, "labelPadding": 3, "labelAngle": -90}}
 }},
{"data": {"values": [{}]}, "mark": {"type": "rule", "color": "black", "strokeWidth": 2.5}, "encoding": {"x": {"datum": 42}}},
{"data": {"values": [{}]}, "mark": {"type": "rule", "color": "black", "strokeWidth": 2.5}, "encoding": {"y": {"datum": 12}}},
{"data": {"values": [{"t": "41.82%", "x": 29.4, "y": 4070}, {"t": "45.64%", "x": 7100, "y": 4070}, {"t": "10.56%", "x": 29.4, "y": 1.98}, {"t": "1.98%", "x": 5620, "y": 1.98}]},
 "mark": {"type": "text", "align": "right", "baseline": "middle", "fontSize": 20},
 "encoding": {"x": {"field": "x", "type": "quantitative", "title": null}, "y": {"field": "y", "type": "quantitative", "title": null}, "text": {"field": "t"}}}
]
}
]
}
]
}
],
"spacing": 40,
"config": {
 "font": "Liberation Sans",
 "view": {"stroke": "black", "strokeWidth": 2.5},
 "axis": {"domainColor": "black", "domainWidth": 2, "tickColor": "black", "tickWidth": 2, "labelColor": "black", "labelFontSize": 21, "labelFont": "DejaVu Sans", "grid": false},
 "title": {"fontSize": 33, "fontWeight": "normal", "color": "black", "font": "Liberation Sans", "lineHeight": 40},
 "text": {"color": "black", "font": "Liberation Sans"}
}
}
